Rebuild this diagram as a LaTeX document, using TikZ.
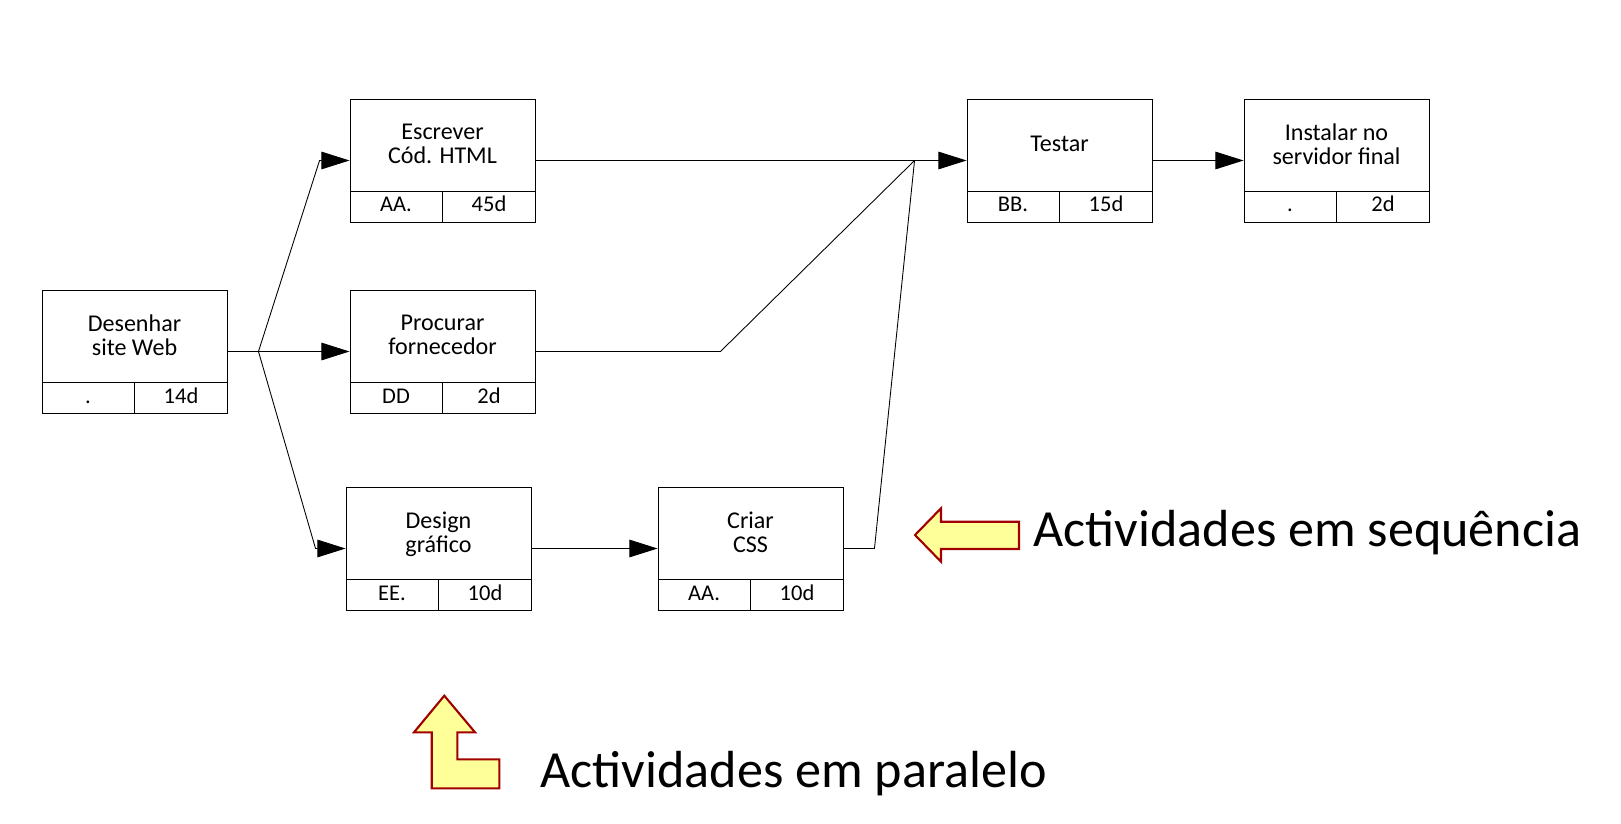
\documentclass[tikz,border=0pt]{standalone}
\usepackage{fontspec}
\setmainfont{Carlito}
\definecolor{NoteFill}{RGB}{255,255,153}
\definecolor{NoteEdge}{RGB}{160,0,0}
\usetikzlibrary{arrows.meta,calc}

\begin{document}
\begin{tikzpicture}[x=0.02cm,y=-0.02cm,
  taskbox/.style={draw,line width=0.55pt,minimum width=3.7cm,minimum height=2.46cm,inner sep=0pt},
  tasktext/.style={align=center,font=\fontsize{13.7}{13.4}\selectfont,inner sep=0pt,text depth=0pt},
  celltext/.style={font=\fontsize{12.8}{12.8}\selectfont,inner sep=0pt,anchor=base},
  flow/.style={line width=0.5pt},
  flowarrow/.style={flow,-{Triangle[length=16pt,width=10pt]}},
  bigarrow/.style={fill=NoteFill,draw=NoteEdge,line width=1.2pt,line join=miter},
  bignote/.style={font=\fontsize{29.7}{29.7}\selectfont,anchor=base west,inner sep=0pt}]
  \useasboundingbox (0,0) rectangle (1621,824);
  % tasks: name/left/top/text/resource/duration
  \foreach \id/\x/\y/\txt/\who/\dur in {
      des/42/290/{Desenhar\\site Web}/./14d,
      esc/350/99/{Escrever\\Cód. HTML}/AA./45d,
      pro/350/290/{Procurar\\fornecedor}/DD/2d,
      dsg/346/487/{Design\\gráfico}/EE./10d,
      css/658/487/{Criar\\CSS}/AA./10d,
      tst/967/99/Testar/BB./15d,
      ins/1244/99/{Instalar no\\servidor final}/./2d} {
    \node[taskbox] (\id) at (\x+92.5,\y+61.5) {};
    \node[tasktext] (\id-t) at (\x+92.5,\y+45) {\txt};
    \draw[line width=0.55pt] (\x,\y+92) -- (\x+185,\y+92) (\x+92.5,\y+92) -- (\x+92.5,\y+123);
    \node[celltext] (\id-r) at (\x+46,\y+113) {\who};
    \node[celltext] (\id-d) at (\x+139,\y+113) {\dur};
  }

  % connectors
  \coordinate (fork) at ($(des.east)+(31,0)$);
  \coordinate (join) at ($(tst.west)+(-52,0)$);
  \draw[flow] (des.east) -- (fork);
  \draw[flowarrow] (fork) -- ($(esc.west)+(-30,0)$) -- (esc.west);
  \draw[flowarrow] (fork) -- (pro.west);
  \draw[flowarrow] (fork) -- ($(dsg.west)+(-30,0)$) -- (dsg.west);
  \draw[flowarrow] (dsg) -- (css);
  \draw[flowarrow] (esc) -- (tst);
  \draw[flow] (pro.east) -- ++(185,0) -- (join);
  \draw[flow] (css.east) -- ++(31,0) -- (join);
  \draw[flowarrow] (tst) -- (ins);

  % notes
  \draw[bigarrow] (915,535) -- (941,508.3) -- (941,521.7) -- (1019,521.7) -- (1019,549) -- (941,549) -- (941,561.7) -- cycle;
  \node[bignote] (seqnote) at (1033,546) {Actividades em sequência};
  \draw[bigarrow] (444.3,695.7) -- (475,732.3) -- (457.3,732.3) -- (457.3,759.3) -- (499.3,759.3) -- (499.3,788.3) -- (431.7,788.3) -- (431.7,732.3) -- (414,732.3) -- cycle;
  \node[bignote] (parnote) at (540,787) {Actividades em paralelo};
\end{tikzpicture}
\end{document}
